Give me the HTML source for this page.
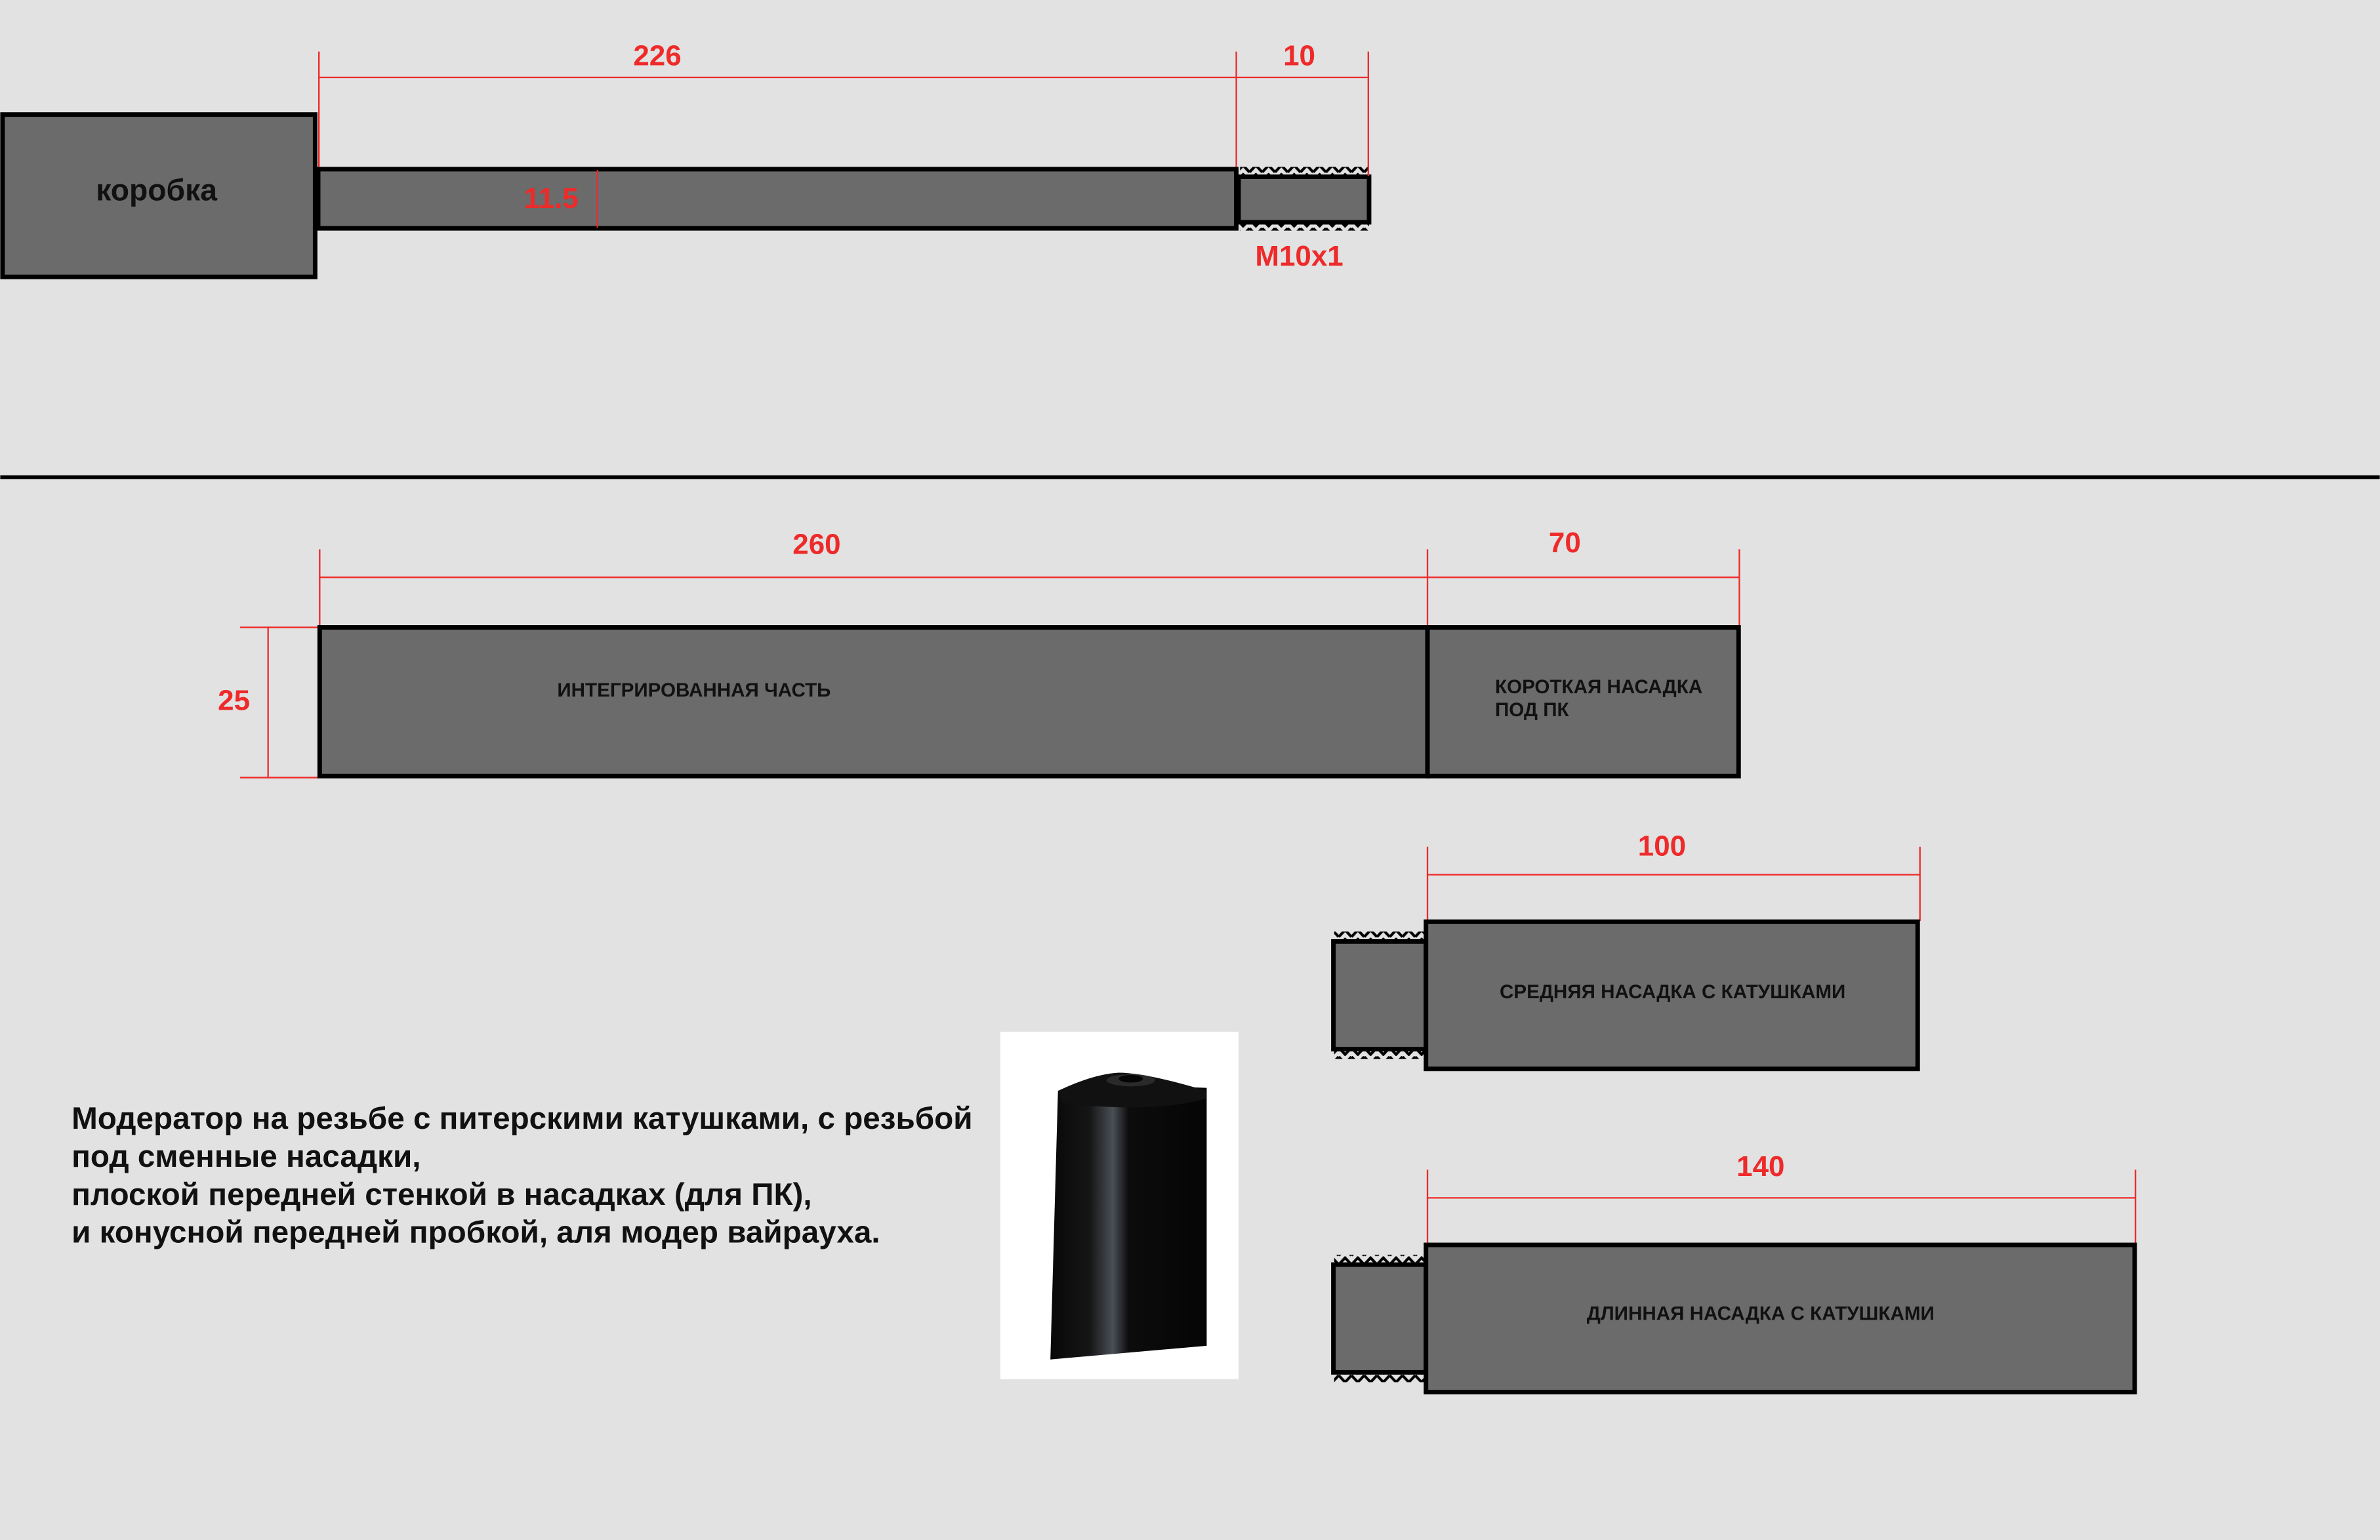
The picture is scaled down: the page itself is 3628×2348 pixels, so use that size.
<!DOCTYPE html>
<html><head><meta charset="utf-8"><style>
html,body{margin:0;padding:0;background:#e2e2e2;}
svg{display:block;}
text{font-family:"Liberation Sans",sans-serif;font-weight:bold;}
.r{fill:#ee2a2a;font-size:19px;text-anchor:middle;}
.l{fill:#111;font-size:12.8px;}
</style></head><body>
<svg width="3628" height="2348" viewBox="0 0 1568 1015" xmlns="http://www.w3.org/2000/svg">
<defs>
<pattern id="zz" x="0" y="0" width="8.4" height="6" patternUnits="userSpaceOnUse">
<path d="M0,5.5 L4.2,1 L8.4,5.5" fill="none" stroke="#000" stroke-width="1.8"/>
</pattern>
<pattern id="zzb" x="0" y="0" width="8.4" height="6" patternUnits="userSpaceOnUse">
<path d="M0,0.5 L4.2,5 L8.4,0.5" fill="none" stroke="#000" stroke-width="1.8"/>
</pattern>
<linearGradient id="cyl" x1="0" x2="1" y1="0" y2="0">
<stop offset="0" stop-color="#080808"/>
<stop offset="0.25" stop-color="#151515"/>
<stop offset="0.4" stop-color="#4a4f55"/>
<stop offset="0.5" stop-color="#0c0c0c"/>
<stop offset="1" stop-color="#050505"/>
</linearGradient>
</defs>
<rect width="1568" height="1015" fill="#e2e2e2"/>

<rect x="1.5" y="75.5" width="206" height="107" fill="#6b6b6b" stroke="#000" stroke-width="3"/>
<text x="103" y="132" text-anchor="middle" style="font-size:20px;fill:#111">коробка</text>
<rect x="209.5" y="111.5" width="605" height="39" fill="#6b6b6b" stroke="#000" stroke-width="3"/>
<rect x="817" y="110" width="85" height="6" fill="url(#zz)"/>
<rect x="817" y="146" width="85" height="6" fill="url(#zzb)"/>
<rect x="816" y="116.5" width="86" height="30" fill="#6b6b6b" stroke="#000" stroke-width="3"/>
<g stroke="#ee2a2a" stroke-width="1">
<line x1="210" y1="34" x2="210" y2="110"/>
<line x1="814.5" y1="34" x2="814.5" y2="110"/>
<line x1="901.5" y1="34" x2="901.5" y2="116"/>
<line x1="210" y1="51" x2="901" y2="51"/>
<line x1="393.5" y1="112" x2="393.5" y2="150"/>
</g>
<text class="r" x="433" y="43">226</text>
<text class="r" x="856" y="43">10</text>
<text class="r" x="363" y="137">11.5</text>
<text class="r" x="856" y="175">M10x1</text>

<line x1="0" y1="314.5" x2="1568" y2="314.5" stroke="#000" stroke-width="2.5"/>

<g stroke="#ee2a2a" stroke-width="1">
<line x1="210.5" y1="362" x2="210.5" y2="413"/>
<line x1="940.5" y1="362" x2="940.5" y2="413"/>
<line x1="1146" y1="362" x2="1146" y2="413"/>
<line x1="210" y1="380.5" x2="1146" y2="380.5"/>
<line x1="176.5" y1="413" x2="176.5" y2="512"/>
<line x1="158" y1="413.5" x2="210" y2="413.5"/>
<line x1="158" y1="512.5" x2="210" y2="512.5"/>
</g>
<text class="r" x="538" y="365">260</text>
<text class="r" x="1031" y="364">70</text>
<text class="r" x="154" y="468">25</text>
<rect x="210.5" y="413.5" width="730" height="98" fill="#6b6b6b" stroke="#000" stroke-width="3"/>
<rect x="940.5" y="413.5" width="205" height="98" fill="#6b6b6b" stroke="#000" stroke-width="3"/>
<text class="l" x="367" y="459">ИНТЕГРИРОВАННАЯ ЧАСТЬ</text>
<text class="l" x="985" y="457">КОРОТКАЯ НАСАДКА</text>
<text class="l" x="985" y="472">ПОД ПК</text>

<g stroke="#ee2a2a" stroke-width="1">
<line x1="940.5" y1="558" x2="940.5" y2="607"/>
<line x1="1265" y1="558" x2="1265" y2="607"/>
<line x1="940" y1="576.5" x2="1265" y2="576.5"/>
</g>
<text class="r" x="1095" y="564">100</text>
<rect x="879" y="614" width="60" height="6" fill="url(#zz)"/>
<rect x="879" y="692" width="60" height="6" fill="url(#zzb)"/>
<rect x="878.5" y="620.5" width="61" height="71" fill="#6b6b6b" stroke="#000" stroke-width="3"/>
<rect x="939.5" y="607.5" width="324" height="97" fill="#6b6b6b" stroke="#000" stroke-width="3"/>
<text class="l" x="1102" y="658" text-anchor="middle">СРЕДНЯЯ НАСАДКА С КАТУШКАМИ</text>

<g stroke="#ee2a2a" stroke-width="1">
<line x1="940.5" y1="771" x2="940.5" y2="820"/>
<line x1="1407" y1="771" x2="1407" y2="820"/>
<line x1="940" y1="789.5" x2="1407" y2="789.5"/>
</g>
<text class="r" x="1160" y="775">140</text>
<rect x="879" y="827" width="60" height="6" fill="url(#zz)"/>
<rect x="879" y="905" width="60" height="6" fill="url(#zzb)"/>
<rect x="878.5" y="833.5" width="61" height="71" fill="#6b6b6b" stroke="#000" stroke-width="3"/>
<rect x="939.5" y="820.5" width="467" height="97" fill="#6b6b6b" stroke="#000" stroke-width="3"/>
<text class="l" x="1160" y="870" text-anchor="middle">ДЛИННАЯ НАСАДКА С КАТУШКАМИ</text>

<g style="font-size:20.6px;fill:#111">
<text x="47" y="744">Модератор на резьбе с питерскими катушками, с резьбой</text>
<text x="47" y="769">под сменные насадки,</text>
<text x="47" y="794">плоской передней стенкой в насадках (для ПК),</text>
<text x="47" y="819">и конусной передней пробкой, аля модер вайрауха.</text>
</g>

<rect x="659" y="680" width="157" height="229" fill="#ffffff"/>
<path d="M697,719 L710,714 L795,717 L795,887 L692,896 Z" fill="url(#cyl)"/>
<path d="M697,719 Q720,708 737,707 Q755,707 795,719 L795,724 Q760,734 700,727 Z" fill="#111"/>
<ellipse cx="745" cy="712" rx="16" ry="4" fill="#2a2a2a"/>
<ellipse cx="745" cy="711" rx="8" ry="2.5" fill="#050505"/>
</svg>
</body></html>
